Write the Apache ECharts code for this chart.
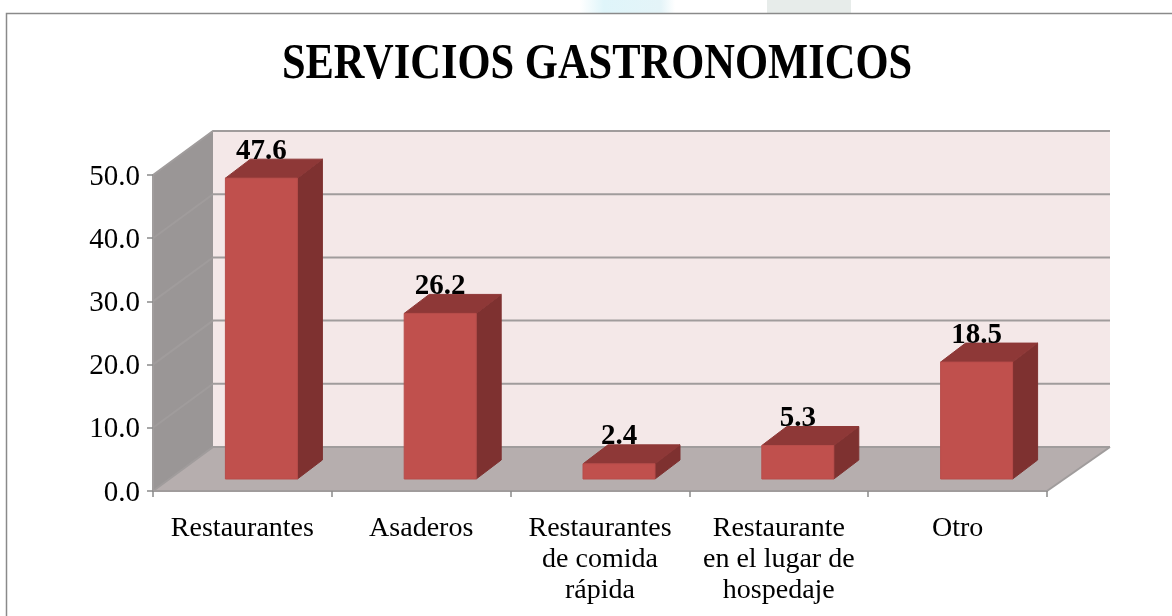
<!DOCTYPE html>
<html>
<head>
<meta charset="utf-8">
<style>
  html, body { margin: 0; padding: 0; background: #fff; }
  #chart { width: 1172px; height: 616px; }
</style>
<script src="https://cdn.jsdelivr.net/npm/echarts@6/dist/echarts.min.js"></script>
</head>
<body>
<div id="chart"></div>
<script>
const categories = ['Restaurantes', 'Asaderos', 'Restaurantes\nde comida\nrápida', 'Restaurante\nen el lugar de\nhospedaje', 'Otro']
const values = [47.6, 26.2, 2.4, 5.3, 18.5]
const yTicks = [0, 10, 20, 30, 40, 50]
const yMin = 0
const yMax = 50

// profundidad del cubo 3D en pixeles
const wallDX = 60
const wallRightDX = 63
const wallDY = -44
const barDX = 25
const barDY = -19
const barOffX = 19
const barOffY = -12
const barWidth = 72

const chart = echarts.init(document.getElementById('chart'))

function poly(points, fill, stroke, lw, z2) {
  return {
    type: 'polygon',
    z2: z2 || 0,
    shape: { points: points },
    style: { fill: fill, stroke: stroke || null, lineWidth: lw || 0 }
  }
}

// paredes y suelo
function renderWalls(params, api) {
  const c = params.coordSys
  const left = c.x
  const right = c.x + c.width
  const y0 = api.coord([0, yMin])[1]
  const yT = api.coord([0, yMax])[1]
  const gridColor = '#a09c9c'
  const kids = [
    poly([[left + wallDX, yT + wallDY], [right + wallRightDX, yT + wallDY], [right + wallRightDX, y0 + wallDY], [left + wallDX, y0 + wallDY]], '#f4e8e8'),
    poly([[left, yT], [left + wallDX, yT + wallDY], [left + wallDX, y0 + wallDY], [left, y0]], '#9a9696'),
    poly([[left, y0], [left + wallDX, y0 + wallDY], [right + wallRightDX, y0 + wallDY], [right, y0]], '#b6aeae')
  ]
  yTicks.forEach(function (t) {
    const y = api.coord([0, t])[1]
    kids.push({
      type: 'polyline',
      z2: 1,
      shape: { points: [[left, y], [left + wallDX, y + wallDY], [right + wallRightDX, y + wallDY]] },
      style: { fill: null, stroke: gridColor, lineWidth: 2 }
    })
  })
  kids.push({
    type: 'line',
    z2: 1,
    shape: { x1: right, y1: y0, x2: right + wallRightDX, y2: y0 + wallDY },
    style: { stroke: gridColor, lineWidth: 2 }
  })
  return { type: 'group', children: kids }
}

// barras con cara frontal, superior y lateral
function renderBar(params, api) {
  const idx = api.value(0)
  const val = api.value(1)
  const cx = api.coord([idx, 0])[0] + barOffX
  const y0 = api.coord([idx, 0])[1] + barOffY
  const yv = api.coord([idx, val])[1] + barOffY
  const l = cx - barWidth / 2
  const r = cx + barWidth / 2
  return {
    type: 'group',
    children: [
      poly([[r, yv], [r + barDX, yv + barDY], [r + barDX, y0 + barDY], [r, y0]], '#7e3130', '#7e3130', 1),
      poly([[l, yv], [l + barDX, yv + barDY], [r + barDX, yv + barDY], [r, yv]], '#8e3837', '#8e3837', 1),
      poly([[l, yv], [r, yv], [r, y0], [l, y0]], '#c0504d', '#b84d4a', 1),
      {
        type: 'text',
        z2: 5,
        style: {
          text: val.toFixed(1),
          x: cx,
          y: yv - 27,
          align: 'center',
          verticalAlign: 'middle',
          fill: '#000',
          font: 'bold 29px "Liberation Serif"'
        }
      }
    ]
  }
}

const option = {
  animation: false,
  backgroundColor: '#fff',
  graphic: [
    { type: 'rect', shape: { x: 767, y: 0, width: 84, height: 13 }, style: { fill: '#e7ecea' } },
    {
      type: 'rect',
      shape: { x: 580, y: 0, width: 95, height: 13 },
      style: {
        fill: {
          type: 'linear', x: 0, y: 0, x2: 1, y2: 0,
          colorStops: [{ offset: 0, color: '#ffffff' }, { offset: 0.25, color: '#dff5fa' }, { offset: 0.85, color: '#e4f4f8' }, { offset: 1, color: '#ffffff' }]
        }
      }
    },
    {
      type: 'polyline',
      shape: { points: [[6.5, 616], [6.5, 13.5], [1172, 13.5]] },
      style: { fill: null, stroke: '#8a8a8a', lineWidth: 1.5 }
    },
    {
      // titulo: la fuente es mas ancha que la original, se estrecha un poco
      type: 'text',
      x: 597,
      y: 65,
      scaleX: 0.85,
      style: {
        text: 'SERVICIOS GASTRONOMICOS',
        align: 'center',
        verticalAlign: 'middle',
        fill: '#000',
        font: 'bold 50px "Liberation Serif"'
      }
    }
  ],
  grid: { left: 153, right: 125, top: 175, bottom: 125 },
  xAxis: {
    type: 'category',
    data: categories,
    z: 5,
    axisLine: { show: true, lineStyle: { color: '#a09c9c', width: 2 } },
    axisTick: { show: true, length: 6, lineStyle: { color: '#8a8a8a', width: 1.5 } },
    axisLabel: {
      interval: 0,
      margin: 22,
      fontFamily: 'Liberation Serif',
      fontSize: 28,
      lineHeight: 31,
      color: '#000',
      verticalAlign: 'top'
    }
  },
  yAxis: {
    type: 'value',
    min: yMin,
    max: yMax,
    interval: 10,
    z: 5,
    axisLine: { show: true, lineStyle: { color: '#a09c9c', width: 2 } },
    axisTick: { show: true, length: 6, lineStyle: { color: '#8a8a8a', width: 1.5 } },
    splitLine: { show: false },
    axisLabel: {
      margin: 13,
      color: '#000',
      formatter: function (v) { return '{t|' + v.toFixed(1) + '}' },
      rich: {
        t: { fontFamily: 'Liberation Serif', fontSize: 29, color: '#000', padding: [4, 0, 0, 0] }
      }
    }
  },
  series: [
    {
      type: 'custom',
      z: 1,
      silent: true,
      clip: false,
      data: [[0, 0]],
      renderItem: renderWalls
    },
    {
      type: 'custom',
      z: 2,
      clip: false,
      data: values.map(function (v, i) { return [i, v] }),
      renderItem: renderBar
    }
  ]
}
chart.setOption(option)
</script>
</body>
</html>
